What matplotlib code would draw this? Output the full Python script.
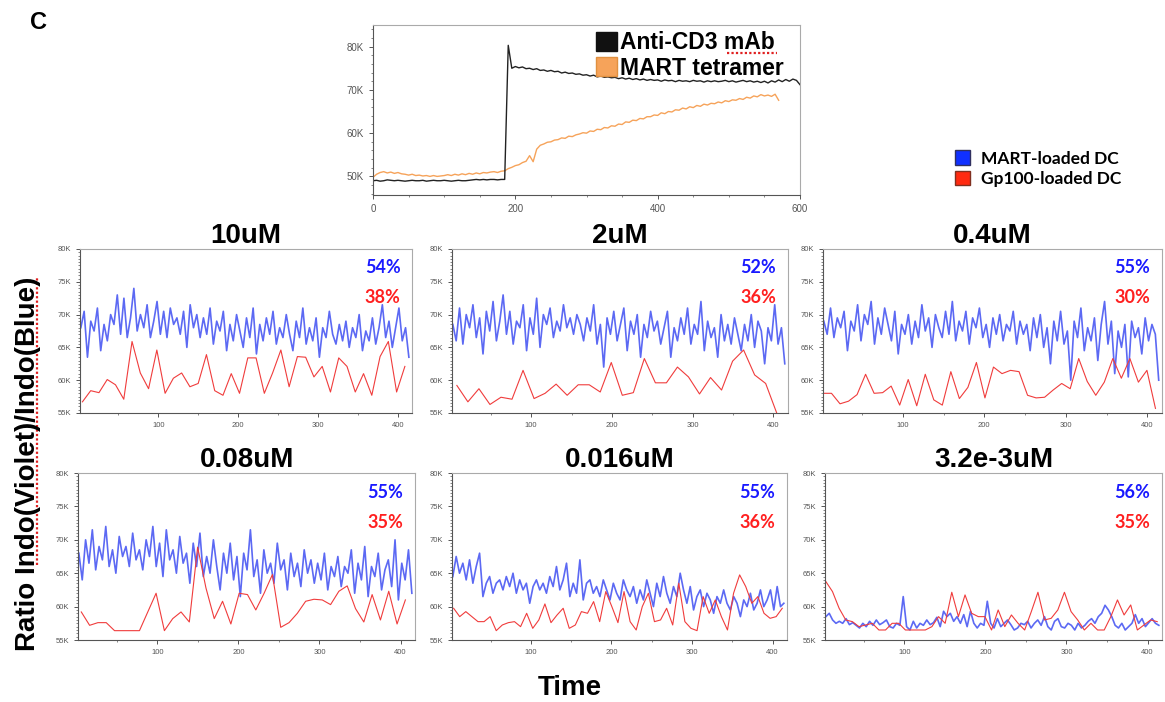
import numpy as np
import matplotlib.pyplot as plt
from matplotlib.patches import Patch
from matplotlib.lines import Line2D
from matplotlib.ticker import MultipleLocator, FuncFormatter

plt.rcParams['font.family'] = ['Liberation Sans', 'DejaVu Sans']

# ---- top panel: calcium flux, values in K (1000s), one sample every 5 s ----
top_step = 5
cd3_ratio = [
    49.0, 49.1, 48.9, 49.0, 49.2, 49.1, 49.0, 49.1, 49.0, 48.9,
    49.0, 49.1, 49.0, 49.0, 49.1, 48.9, 49.0, 49.1, 49.0, 49.0,
    49.1, 49.0, 48.9, 49.0, 49.1, 49.0, 49.0, 49.1, 49.2, 49.3,
    49.2, 49.3, 49.2, 49.3, 49.3, 49.2, 49.3, 49.3,
    80.3,
    75.0, 75.4, 75.1, 75.3, 74.9, 75.0, 74.7, 74.9, 74.5, 74.6,
    74.3, 74.5, 74.2, 74.3, 73.9, 74.1, 73.8, 73.9, 73.6, 73.7,
    73.4, 73.5, 73.2, 73.4, 73.0, 73.2, 72.9, 73.0, 72.8, 72.9,
    72.6, 72.8, 72.5, 72.7, 72.4, 72.6, 72.3, 72.5, 72.2, 72.4,
    72.2, 72.3, 72.0, 72.3, 72.1, 72.2, 71.9, 72.2, 72.0, 72.1,
    71.9, 72.2, 72.0, 72.1, 71.8, 72.1, 71.9, 72.1, 71.9, 72.0,
    72.2, 71.9, 72.1, 71.8, 72.0, 72.2, 71.9, 72.1, 71.8, 72.0,
    71.7, 72.0, 71.6, 72.1, 71.8, 72.3, 71.9, 72.4, 72.0, 72.5,
    72.2, 71.2]
tetramer_ratio = [
    49.8, 50.5, 50.9, 51.1, 50.8, 51.0, 50.7, 50.9, 50.6, 50.5,
    50.3, 50.5, 50.2, 50.3, 50.1, 50.2, 50.0, 50.2, 50.0, 50.1,
    50.2, 50.4, 50.2, 50.5, 50.3, 50.6, 50.4, 50.7, 50.5, 50.8,
    50.6, 50.9, 50.8, 51.0, 51.1, 50.9, 51.2, 51.3,
    51.8, 52.1, 52.5, 52.7, 53.2, 53.5, 54.8, 53.4, 56.3, 57.2,
    57.5, 57.9, 58.0, 58.4, 58.5, 58.9, 58.8, 59.3, 59.2, 59.6,
    59.8, 60.1, 60.0, 60.5, 60.4, 60.9, 60.8, 61.3, 61.2, 61.7,
    61.6, 62.1, 62.0, 62.6, 62.5, 63.0, 62.9, 63.4, 63.3, 63.8,
    63.8, 64.2, 64.1, 64.7, 64.5, 65.0, 64.9, 65.4, 65.3, 65.8,
    65.6, 66.1, 65.9, 66.4, 66.2, 66.7, 66.5, 66.9, 66.8, 67.2,
    67.0, 67.5, 67.3, 67.7, 67.6, 68.0, 67.8, 68.3, 68.1, 68.6,
    68.4, 68.9, 68.6, 68.8, 68.5, 69.0, 67.6]

# ---- six dose panels ----
concentrations = ['10uM', '2uM', '0.4uM', '0.08uM', '0.016uM', '3.2e-3uM']
mart_pct = ['54%', '52%', '55%', '55%', '55%', '56%']
gp100_pct = ['38%', '36%', '30%', '35%', '36%', '35%']

mart_10 = [
    68.0, 70.5, 63.5, 69.0, 67.5, 71.0, 64.5, 68.5, 66.0, 70.0,
    68.5, 73.0, 67.0, 72.5, 66.5, 69.5, 74.0, 67.5, 70.0, 68.0,
    71.5, 66.5, 69.0, 72.0, 67.0, 70.5, 66.5, 71.0, 68.5, 69.5,
    67.0, 70.5, 65.0, 71.5, 68.0, 70.0, 66.5, 69.5, 67.0, 71.0,
    65.5, 69.0, 67.5, 70.5, 64.5, 68.5, 66.0, 70.0, 67.5, 65.0,
    69.5, 66.5, 71.0, 64.0, 68.5, 66.0, 69.5, 67.0, 70.5, 65.5,
    68.0, 66.5, 70.0, 67.0, 64.5, 69.0, 66.5, 71.0, 65.5, 68.0,
    66.0, 69.5, 63.5, 68.0, 66.5, 70.5, 67.0, 65.5, 68.5, 66.0,
    69.0, 65.0, 68.0, 66.5, 70.0, 64.5, 67.5, 66.0, 69.5, 65.5,
    68.0, 71.5, 66.5, 69.0, 65.0, 68.0, 71.0, 66.0, 68.0, 63.5]
mart_2 = [
    68.5, 66.0, 71.0, 65.5, 70.0, 68.0, 71.5, 66.5, 69.5, 64.0,
    70.5, 67.5, 72.0, 66.0, 69.0, 73.0, 67.0, 70.5, 65.5, 69.0,
    68.0, 71.5, 64.5, 69.5, 67.0, 72.5, 65.0, 70.0, 68.5, 71.0,
    66.5, 69.0, 67.5, 71.5, 68.0, 69.5, 67.0, 70.0, 68.5, 66.0,
    69.5, 67.5, 71.5, 65.5, 68.5, 62.0, 69.5, 67.0, 70.5, 66.0,
    68.5, 71.0, 64.5, 69.0, 67.0, 70.0, 63.5, 68.5, 66.5, 70.5,
    67.5, 69.0, 65.5, 68.0, 70.5, 63.5, 68.0, 66.0, 69.5, 67.0,
    71.0, 65.5, 68.5, 67.0, 72.0, 64.5, 69.0, 66.5, 68.0, 63.5,
    70.0, 66.0, 68.5, 65.5, 69.5, 67.0, 64.5, 68.5, 66.0, 70.0,
    65.0, 69.0, 67.5, 62.5, 68.0, 66.0, 71.5, 65.5, 68.0, 62.5]
mart_04 = [
    69.0, 67.0, 71.0, 66.5, 69.5, 68.0, 70.5, 64.5, 69.0, 67.5,
    71.5, 66.0, 70.0, 68.5, 72.0, 65.5, 69.5, 67.0, 71.0, 68.5,
    66.0, 70.5, 64.0, 68.5, 67.0, 70.0, 65.5, 69.0, 66.5, 71.5,
    67.5, 69.5, 65.0, 70.0, 68.0, 66.5, 70.5, 67.0, 72.0, 66.0,
    69.0, 67.5, 70.5, 65.5, 69.5, 68.0, 71.0, 66.5, 68.5, 65.0,
    69.5, 67.0, 70.0, 66.0, 68.5, 67.5, 70.5, 65.5, 69.0, 67.0,
    68.5, 64.5, 69.5, 66.5, 70.0, 65.0, 68.0, 62.5, 69.0, 66.0,
    70.5, 65.5, 67.5, 60.0, 69.0, 66.5, 71.0, 64.5, 68.0, 66.0,
    69.5, 63.0, 68.5, 72.0, 65.5, 69.0, 61.0, 67.5, 65.0, 68.5,
    60.5, 69.0, 66.5, 68.0, 64.0, 69.5, 66.0, 68.5, 67.0, 60.0]
mart_008 = [
    68.0, 64.0, 70.0, 66.5, 71.5, 65.5, 69.0, 67.0, 72.0, 66.0,
    68.5, 65.0, 70.5, 67.5, 69.0, 66.0, 71.0, 67.0, 68.5, 65.5,
    70.0, 67.5, 72.0, 66.0, 69.5, 64.5, 71.5, 67.0, 68.5, 65.0,
    70.5, 66.5, 68.0, 63.5, 69.5, 66.0, 71.0, 64.5, 67.5, 65.0,
    70.0, 66.0, 62.5, 68.0, 65.0, 69.5, 64.0, 67.5, 61.5, 68.0,
    65.5, 71.5, 64.5, 67.0, 62.0, 68.5, 65.0, 66.5, 63.5, 69.5,
    65.5, 67.0, 62.5, 68.0, 64.5, 66.5, 63.0, 68.5, 65.0, 67.0,
    63.5, 66.5, 64.0, 68.0, 62.5, 66.0, 64.5, 67.5, 63.0, 66.0,
    65.0, 68.5, 62.0, 66.5, 64.0, 69.0, 61.5, 66.0, 64.5, 68.0,
    62.5, 65.5, 67.0, 63.0, 70.0, 61.0, 66.5, 64.0, 68.5, 62.0]
mart_0016 = [
    64.5, 67.5, 65.0, 66.5, 64.0, 67.0, 63.5, 66.0, 68.0, 61.5,
    63.5, 64.5, 62.0, 63.5, 64.0, 62.5, 64.5, 63.0, 65.0, 62.0,
    64.0, 62.5, 63.5, 60.5, 63.0, 64.0, 62.5, 63.5, 62.0, 64.5,
    63.0, 66.0, 62.5, 64.0, 66.5, 61.5, 63.5, 62.0, 67.0, 61.0,
    63.5, 64.0, 62.0, 63.0, 61.5, 64.0, 62.5, 61.0, 63.5, 62.0,
    61.0, 64.0, 62.5, 61.5, 63.0, 60.5, 62.5, 61.0, 64.0, 62.0,
    60.0, 63.5, 61.5, 64.5, 62.0, 60.5, 63.0, 61.5, 65.0, 62.5,
    60.5, 63.0, 59.5, 61.5, 62.5, 60.0, 62.0, 61.0, 59.0, 61.5,
    60.5, 62.5, 60.5, 59.5, 61.5, 60.5, 58.5, 61.0, 60.0, 62.0,
    59.5, 60.5, 62.5, 60.0, 61.0, 62.5, 59.5, 63.0, 60.0, 60.5]
mart_32e4 = [
    58.5, 59.0, 58.0, 57.5, 57.8, 57.5, 58.2, 57.3, 57.6, 57.2,
    56.8, 57.5, 57.0, 57.8, 57.2, 58.0, 57.3, 57.6, 58.0, 57.0,
    56.8, 57.5, 57.2, 61.5, 57.0, 56.5, 57.8, 56.8, 57.5, 57.2,
    58.0, 57.3, 57.6, 58.4, 57.0, 59.3, 58.5, 59.0, 57.8, 58.5,
    57.5, 58.8, 57.0, 59.3, 57.5, 56.8, 57.5, 57.2, 60.8, 57.5,
    56.8, 58.2, 57.0, 57.5, 58.0, 57.3, 56.5, 56.8, 57.5, 57.3,
    57.8, 56.8, 57.5, 58.0, 57.2, 58.5, 57.0, 56.5, 57.8, 58.2,
    57.0, 56.8, 57.5, 57.2, 56.5, 57.5, 56.8, 57.2, 57.8, 58.2,
    57.5, 58.5, 59.0, 60.2, 59.5, 58.5, 57.2, 56.8, 57.5, 56.5,
    57.0, 57.5, 58.8, 57.5, 58.2, 57.0, 57.6, 58.2, 57.5, 57.2]

gp100_10 = [56.7, 58.4, 58.1, 60.1, 59.3, 57.1, 65.9, 61.1, 58.7, 64.6,
            58.0, 60.3, 61.1, 59.0, 59.5, 63.9, 58.4, 57.7, 61.0, 58.0,
            63.4, 63.4, 58.0, 61.1, 64.6, 59.0, 63.6, 63.5, 60.5, 62.1,
            58.2, 63.4, 62.1, 58.2, 61.0, 57.7, 63.6, 65.9, 58.2, 62.1]
gp100_2 = [59.2, 56.7, 58.7, 56.3, 57.4, 57.1, 61.5, 57.2, 58.0, 59.4,
           57.7, 59.3, 59.3, 58.2, 62.7, 57.7, 58.1, 63.3, 59.6, 59.6,
           62.0, 60.5, 57.9, 60.4, 58.5, 62.9, 64.6, 60.8, 59.5, 55.0]
gp100_04 = [58.0, 58.0, 56.4, 56.8, 57.8, 60.9, 58.0, 58.1, 59.1, 56.2,
            60.1, 56.1, 60.9, 57.0, 56.2, 61.3, 57.2, 58.9, 62.7, 57.3,
            62.0, 61.0, 61.5, 61.3, 57.7, 57.3, 57.4, 58.5, 59.5, 58.7,
            63.3, 59.8, 57.7, 59.7, 63.3, 60.3, 63.3, 59.7, 61.5, 55.7]
gp100_008 = [59.2, 57.2, 57.6, 57.6, 56.4, 56.4, 56.4, 56.4, 59.2, 62.0,
             56.4, 58.2, 59.2, 57.7, 68.9, 62.8, 58.2, 60.8, 57.4, 62.0,
             61.8, 59.5, 62.0, 64.8, 56.9, 57.6, 59.0, 60.8, 61.1, 61.0,
             60.3, 62.3, 63.1, 59.7, 57.7, 61.8, 58.0, 62.3, 57.4, 61.0]
gp100_0016 = [59.75, 58.5, 59.25, 58.5, 57.75, 57.75, 58.5, 56.4, 57.25, 57.6,
              57.75, 57.0, 59.0, 56.75, 58.0, 60.4, 57.6, 58.75, 59.75, 56.75,
              57.25, 59.25, 59.0, 60.75, 57.75, 62.25, 60.0, 57.6, 62.25, 57.75,
              56.5, 60.0, 62.0, 57.75, 58.0, 59.75, 57.25, 63.5, 57.75, 56.75,
              56.4, 61.5, 59.0, 61.0, 58.5, 56.5, 62.0, 64.75, 63.0, 60.5,
              61.5, 59.0, 58.25, 58.5, 59.75]
gp100_32e4 = [63.75, 62.25, 59.75, 58.0, 57.75, 57.0, 57.25, 57.5, 56.5, 56.5,
              57.5, 57.5, 56.5, 56.5, 56.5, 56.5, 57.0, 58.5, 57.5, 62.15,
              58.5, 61.75, 59.0, 58.5, 58.5, 56.5, 59.5, 57.0, 58.75, 57.5,
              56.5, 59.25, 62.15, 58.0, 58.25, 59.5, 62.15, 59.25, 58.0, 56.5,
              57.5, 56.5, 56.5, 58.5, 61.0, 58.75, 60.25, 56.5, 57.25, 58.0, 57.75]

mart_traces = [mart_10, mart_2, mart_04, mart_008, mart_0016, mart_32e4]
gp100_traces = [gp100_10, gp100_2, gp100_04, gp100_008, gp100_0016, gp100_32e4]
mart_span = (3, 414)
gp100_span = [(5, 409), (8, 404), (2, 410), (6, 406), (4, 412), (3, 412)]

kfmt = FuncFormatter(lambda v, p: '%dK' % round(v / 1000))

fig = plt.figure(figsize=(11.65, 7.02), dpi=100)


def style_axes(ax, size):
    for s in ['top', 'right']:
        ax.spines[s].set_color('#aaaaaa')
    for s in ['left', 'bottom']:
        ax.spines[s].set_color('#555555')
    for s in ax.spines.values():
        s.set_linewidth(0.8)
    ax.yaxis.set_major_formatter(kfmt)
    ax.tick_params(labelsize=size, colors='#555555', length=3, width=0.7)
    ax.tick_params(which='minor', length=1.5, width=0.5, colors='#555555')


# top panel
ax = fig.add_axes([0.3202, 0.7222, 0.3665, 0.2422])
t_cd3 = np.arange(len(cd3_ratio)) * top_step
t_tet = np.arange(len(tetramer_ratio)) * top_step
ax.plot(t_tet, np.array(tetramer_ratio) * 1000, color='#f6a35a', lw=1.0)
ax.plot(t_cd3, np.array(cd3_ratio) * 1000, color='#222222', lw=1.0)
ax.set_xlim(0, 600)
ax.set_ylim(45700, 85000)
ax.set_xticks([0, 200, 400, 600])
ax.set_yticks([50000, 60000, 70000, 80000])
ax.xaxis.set_minor_locator(MultipleLocator(50))
ax.yaxis.set_minor_locator(MultipleLocator(2000))
style_axes(ax, 7)
ax.legend(handles=[Patch(facecolor='#111111', edgecolor='#111111', label='Anti-CD3 mAb'),
                   Patch(facecolor='#f6a35a', edgecolor='#e09040', label='MART tetramer')],
          loc='upper right', bbox_to_anchor=(0.995, 1.045), frameon=False,
          prop={'weight': 'bold', 'size': 16.5}, handlelength=0.9, handleheight=0.9,
          handletextpad=0.15, labelspacing=0.12, borderpad=0.1)

# shared legend for the dose panels
fig.legend(handles=[Patch(facecolor='#1030ff', edgecolor='#303060', label='MART-loaded DC'),
                    Patch(facecolor='#ff2a10', edgecolor='#803020', label='Gp100-loaded DC')],
           loc='upper left', bbox_to_anchor=(0.806, 0.808), frameon=False,
           prop={'family': 'Lato', 'weight': 'bold', 'size': 12.5},
           handlelength=0.9, handleheight=0.9, handletextpad=0.6, labelspacing=0.25)

rects = [(0.0687, 0.4117, 0.2850, 0.2336), (0.3880, 0.4117, 0.2884, 0.2336),
         (0.7064, 0.4117, 0.2910, 0.2336), (0.0670, 0.0883, 0.2893, 0.2379),
         (0.3880, 0.0883, 0.2876, 0.2379), (0.7082, 0.0883, 0.2893, 0.2379)]

for i, rect in enumerate(rects):
    ax = fig.add_axes(rect)
    blue = np.array(mart_traces[i]) * 1000
    red = np.array(gp100_traces[i]) * 1000
    ax.plot(np.linspace(mart_span[0], mart_span[1], len(blue)), blue,
            color='#5361f3', lw=1.2, alpha=0.95)
    ax.plot(np.linspace(gp100_span[i][0], gp100_span[i][1], len(red)), red,
            color='#f03c3c', lw=0.8)
    ax.set_xlim(2, 418)
    ax.set_ylim(55000, 80000)
    ax.set_xticks([100, 200, 300, 400])
    ax.set_yticks([55000, 60000, 65000, 70000, 75000, 80000])
    ax.xaxis.set_minor_locator(MultipleLocator(50))
    ax.yaxis.set_minor_locator(MultipleLocator(500))
    style_axes(ax, 5.5)
    ax.set_title(concentrations[i], fontsize=20, fontweight='bold', pad=2)
    ax.text(0.965, 0.885, mart_pct[i], transform=ax.transAxes, ha='right', va='center',
            color='#1a1aff', fontsize=13, fontweight='bold', family='Lato')
    ax.text(0.965, 0.705, gp100_pct[i], transform=ax.transAxes, ha='right', va='center',
            color='#ff2020', fontsize=13, fontweight='bold', family='Lato')

fig.text(0.026, 0.968, 'C', fontsize=17, fontweight='bold', va='center')
fig.text(0.024, 0.34, 'Ratio Indo(Violet)/Indo(Blue)', rotation=90, fontsize=20,
         fontweight='bold', ha='center', va='center')
fig.text(0.489, 0.02, 'Time', fontsize=20, fontweight='bold', ha='center', va='center')

# spell-check underlines from the source document
fig.add_artist(Line2D([0.0318, 0.0318], [0.195, 0.605], color='#e02020', lw=1.6,
                      ls=(0, (1, 1)), transform=fig.transFigure))
fig.add_artist(Line2D([0.624, 0.667], [0.924, 0.924], color='#e02020', lw=1.6,
                      ls=(0, (1, 1)), transform=fig.transFigure))

fig.savefig('out.png', dpi=100)
